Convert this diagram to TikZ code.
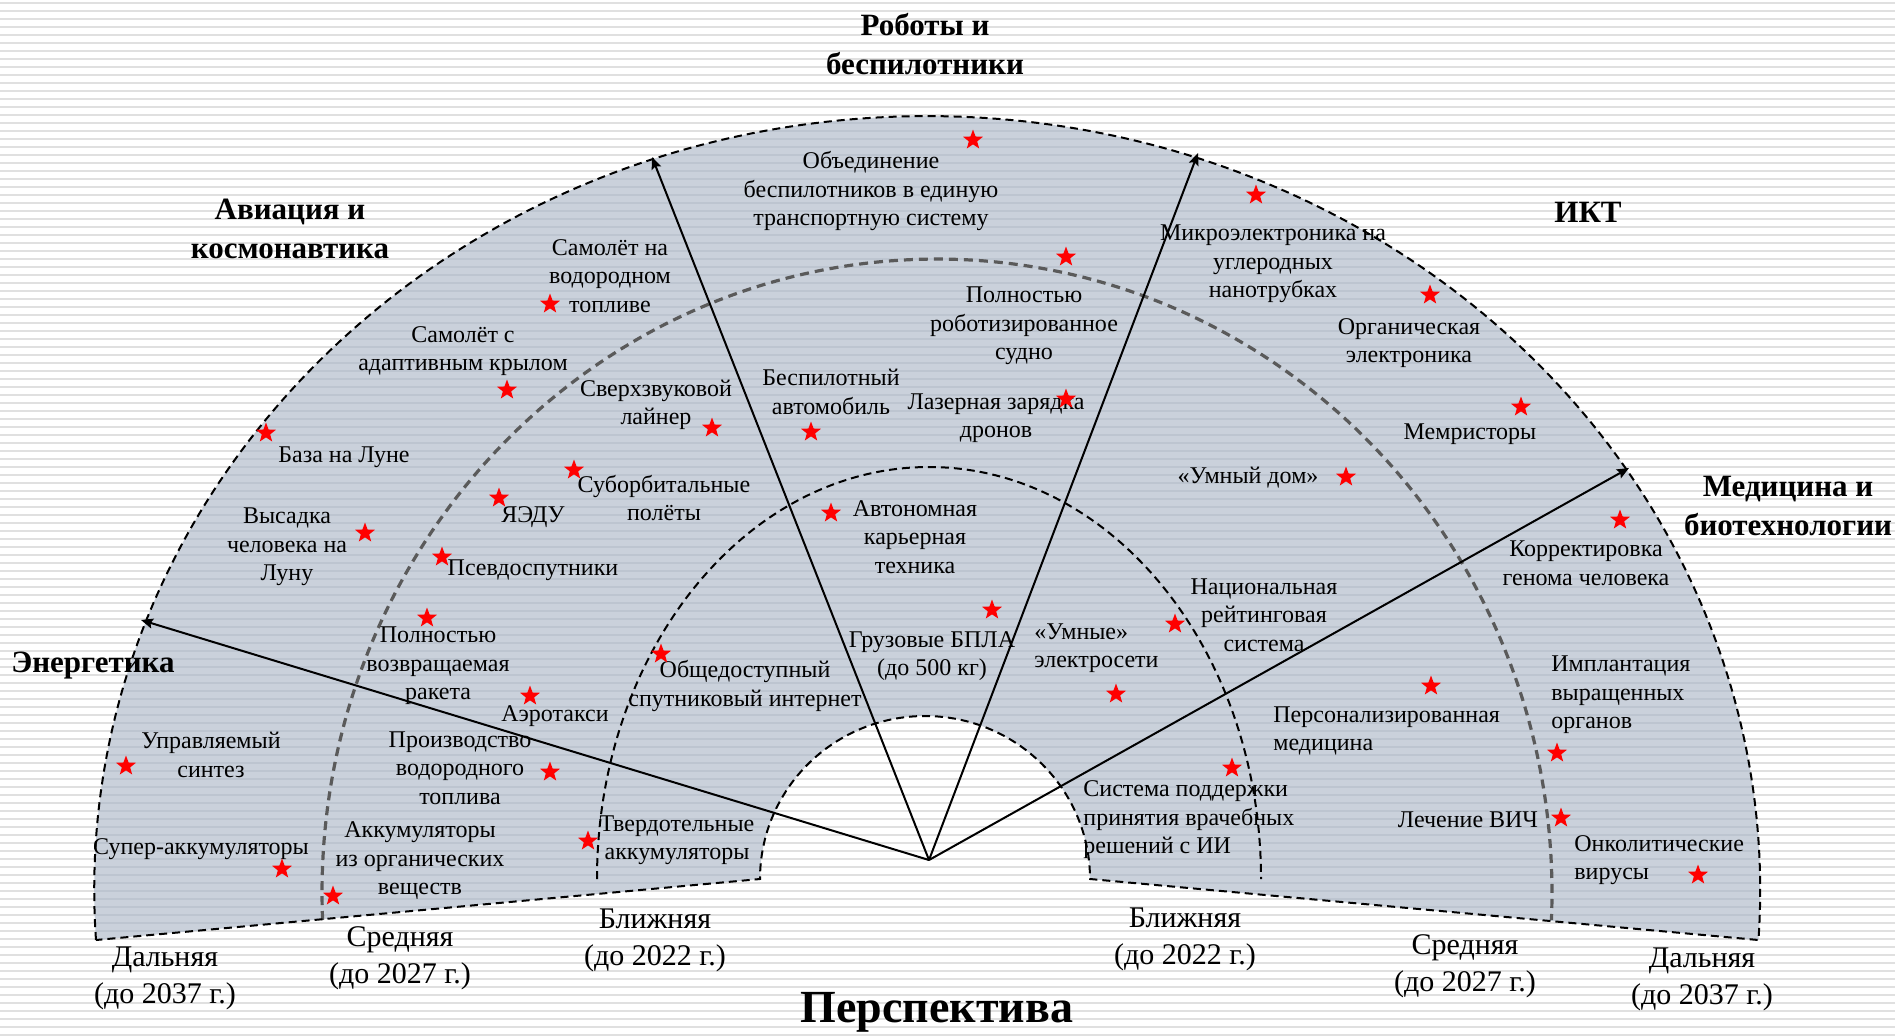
\documentclass[tikz,border=0pt]{standalone}
\usepackage{fontspec}
\setmainfont{Liberation Serif}
\usetikzlibrary{arrows.meta}
\usetikzlibrary{shapes.geometric}

\definecolor{streifen}{RGB}{224,224,224}
\definecolor{faecher}{RGB}{202,209,219}
\definecolor{faecherstreifen}{RGB}{189,197,208}
\definecolor{mittelgrau}{RGB}{90,90,90}

% Umriss des Faechers (Pixelkoordinaten, y nach unten)
\newcommand{\faecherpfad}{(96,940) arc[start angle=176.3, end angle=363.7, x radius=833, y radius=774]
    -- (1090,879) arc[start angle=360, end angle=180, x radius=165, y radius=163] -- cycle}

\tikzset{
    stern/.style={star, star points=5, star point ratio=2.4, fill=red, draw=none, minimum size=10.5pt, inner sep=0pt},
    eintrag/.style={inner sep=0pt, align=center, font=\fontsize{12pt}{14.25pt}\selectfont},
    eintraglinks/.style={eintrag, align=left, anchor=west},
    bereich/.style={inner sep=0pt, align=center, font=\fontsize{15.5pt}{19.5pt}\selectfont\bfseries},
    zeit/.style={inner sep=0pt, align=center, font=\fontsize{15pt}{18.5pt}\selectfont},
    pfeil/.style={line width=1pt, -{Stealth[length=6pt, width=5pt, inset=1pt]}},
    rand/.style={line width=1pt, dash pattern=on 4pt off 2.5pt},
}

\begin{document}
\begin{tikzpicture}[x=0.5pt, y=-0.5pt]
\useasboundingbox (0,0) rectangle (1895,1035);
% Hintergrund mit Streifen
\fill[white] (0,0) rectangle (1895,1035);
\foreach \y in {3,11,...,1035} {
    \draw[streifen, line width=1.25pt] (0,\y) -- (1895,\y);
}
% Faecher mit Streifen
\begin{scope}
    \clip \faecherpfad;
    \fill[faecher] (0,0) rectangle (1895,1035);
    \foreach \y in {3,11,...,1035} {
        \draw[faecherstreifen, line width=1.4pt] (0,\y) -- (1895,\y);
    }
\end{scope}
% Zeitgrenzen
\draw[mittelgrau, line width=1.6pt, dash pattern=on 4.5pt off 3pt] (322.6,920) arc[start angle=177.56, end angle=362.44, x radius=615, y radius=634];
\draw[rand] (597,879) arc[start angle=180, end angle=360, x radius=332, y radius=412];
\draw[rand] \faecherpfad;
% Pfeile
\coordinate (c) at (929,860);
\coordinate (pAvia) at (652,157);
\coordinate (pIkt) at (1198,153);
\coordinate (pEnerg) at (141,620);
\coordinate (pMed) at (1629,468);
\foreach \p in {pAvia,pIkt,pEnerg,pMed} {
    \draw[pfeil] (c) -- (\p);
}
% Bereiche
\node[bereich] (robo) at (925,44) {Роботы и\\беспилотники};
\node[bereich] (avia) at (290,229) {Авиация и\\космонавтика};
\node[bereich] (ikt) at (1588,212) {ИКТ};
\node[bereich] (med) at (1788,506) {Медицина и\\биотехнологии};
\node[bereich] (energ) at (93,666) {Энергетика};
% Zeithorizonte
\node[zeit] (z1) at (165,978) {Дальняя\\(до 2037 г.)};
\node[zeit] (z2) at (400,958) {Средняя\\(до 2027 г.)};
\node[zeit] (z3) at (655,940) {Ближняя\\(до 2022 г.)};
\node[zeit] (z4) at (1185,939) {Ближняя\\(до 2022 г.)};
\node[zeit] (z5) at (1465,966) {Средняя\\(до 2027 г.)};
\node[zeit] (z6) at (1702,979) {Дальняя\\(до 2037 г.)};
\node[inner sep=0pt, anchor=base, font=\fontsize{23pt}{27pt}\selectfont\bfseries] (titel) at (937,1022) {Перспектива};
% Technologien
\node[eintrag] (t1) at (871,191) {Объединение\\беспилотников в единую\\транспортную систему};
\node[eintrag] (t2) at (610,276) {Самолёт на\\водородном\\топливе};
\node[eintrag] (t3) at (463,351) {Самолёт с\\адаптивным крылом};
\node[eintrag] (t4) at (344,457) {База на Луне};
\node[eintrag] (t5) at (656,405) {Сверхзвуковой\\лайнер};
\node[eintrag] (t6) at (664,498) {Суборбитальные\\полёты};
\node[eintrag] (t7) at (533,517) {ЯЭДУ};
\node[eintrag] (t8) at (287,547) {Высадка\\человека на\\Луну};
\node[eintrag] (t9) at (533,570) {Псевдоспутники};
\node[eintrag] (t10) at (438,666) {Полностью\\возвращаемая\\ракета};
\node[eintrag] (t11) at (555,716) {Аэротакси};
\node[eintrag] (t12) at (211,755) {Управляемый\\синтез};
\node[eintrag] (t13) at (460,768) {Производство\\водородного\\топлива};
\node[eintrag] (t14) at (201,849) {Супер-аккумуляторы};
\node[eintrag] (t15) at (420,861) {Аккумуляторы\\из органических\\веществ};
\node[eintrag] (t16) at (677,840) {Твердотельные\\аккумуляторы};
\node[eintrag] (t17) at (745,686) {Общедоступный\\спутниковый интернет};
\node[eintrag] (t18) at (831,392) {Беспилотный\\автомобиль};
\node[eintrag] (t19) at (1024,326) {Полностью\\роботизированное\\судно};
\node[eintrag] (t20) at (996,418) {Лазерная зарядка\\дронов};
\node[eintrag] (t21) at (915,537) {Автономная\\карьерная\\техника};
\node[eintrag] (t22) at (932,656) {Грузовые БПЛА\\(до 500 кг)};
\node[eintraglinks] (t23) at (1034,648) {«Умные»\\электросети};
\node[eintrag] (t24) at (1264,615) {Национальная\\рейтинговая\\система};
\node[eintraglinks] (t25) at (1083,820) {Система поддержки\\принятия врачебных\\решений с ИИ};
\node[eintrag] (t26) at (1273,264) {Микроэлектроника на\\углеродных\\нанотрубках};
\node[eintrag] (t27) at (1409,343) {Органическая\\электроника};
\node[eintrag] (t28) at (1470,434) {Мемристоры};
\node[eintrag] (t29) at (1248,478) {«Умный дом»};
\node[eintraglinks] (t30) at (1273,731) {Персонализированная\\медицина};
\node[eintrag] (t31) at (1586,563) {Корректировка\\генома человека};
\node[eintraglinks] (t32) at (1551,695) {Имплантация\\выращенных\\органов};
\node[eintrag] (t33) at (1468,820) {Лечение ВИЧ};
\node[eintraglinks] (t34) at (1574,860) {Онколитические\\вирусы};
% Sterne
\foreach \x/\y/\n in {973/140/s1, 550/304/s2, 507/390/s3, 266/433/s4, 712/428/s5, 574/470/s6,
    499/498/s7, 365/533/s8, 442/557/s9, 427/618/s10, 530/696/s11, 126/766/s12, 550/772/s13,
    282/869/s14, 333/896/s15, 588/841/s16, 661/654/s17, 811/432/s18, 1066/257/s19, 1066/399/s20,
    831/513/s21, 992/610/s22, 1116/694/s23, 1175/624/s24, 1232/768/s25, 1256/195/s26, 1430/295/s27,
    1521/407/s28, 1346/477/s29, 1431/686/s30, 1620/520/s31, 1557/753/s32, 1561/818/s33, 1698/875/s34} {
    \node[stern] (\n) at (\x,\y) {};
}
\end{tikzpicture}
\end{document}
